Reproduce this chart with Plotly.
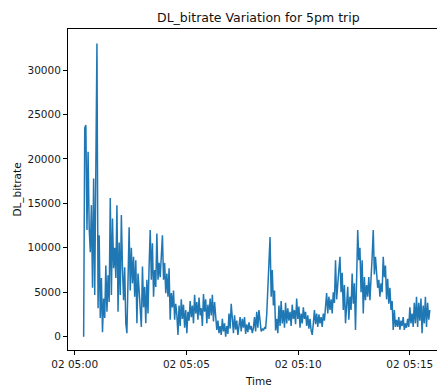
import pandas as pd
import plotly.graph_objects as go

# DL_bitrate readings, sampled in order (about every 3 s) from 05:00:24
bitrate_0500 = [0, 23500, 23800, 12000, 20800, 12200, 9500, 14800, 5500, 17800,
                4700, 20600, 33000, 3200, 11400, 2100, 6600, 500, 4300, 2100,
                8000, 2800, 6900, 3900, 15600, 4700, 13300, 7700, 10000, 6600,
                14800, 2800, 10600, 4700, 13700, 7700]
bitrate_0502 = [4100, 7800, 1500, 400, 7500, 12300, 5200, 10000, 6000, 9000,
                4500, 8600, 1500, 7100, 5200, 2600, 1100, 7900, 3300, 5600,
                1500, 6400, 2600, 8000, 12000, 6400, 10500, 4500, 7500, 5600,
                11600, 6400, 8300, 6700, 9000, 11400, 6400, 8300, 4900, 7100,
                4500, 7700, 1900, 4900, 3300, 5200, 1900, 3700, 2500, 200]
bitrate_0504 = [3500, 1200, 4200, 2000, 3600, 1000, 3000, 400, 2800, 1800,
                4000, 2200, 3500, 1500, 4700, 2600, 3900, 1900, 4400, 2400,
                3200, 1200, 4800, 2800, 4200, 1500, 3600, 2000, 4300, 2400,
                4700, 1700, 3900, 2000, 750, 1800, 400, 1200, 200, 2000,
                600, 1500, 0, 1200, 300, 2600, 900, 3700]
bitrate_0507 = [1500, 400, 2400, 800, 1800, 200, 1200, 2200, 600, 2000,
                1000, 2200, 300, 1400, 500, 1600, 800, 1200, 400, 1000,
                2200, 600, 2800, 1000, 3000, 1300, 600, 900, 700, 1000,
                900, 2500, 6000, 8500, 11200, 4500, 7500, 3500, 5200, 700,
                2000, 400, 3500, 1200, 4000, 1500, 3000, 1000, 3800]
bitrate_0509 = [1500, 3200, 1800, 2800, 1200, 3600, 2000, 3000, 1400, 4300,
                2000, 3400, 1000, 2600, 1500, 3300, 2000, 2800, 1200, 2400,
                900, 2000, 700, 200, 1500, 3000, 1400, 2600, 1100, 2500,
                1500, 2200, 1100, 2600, 1800, 3000, 4900, 2600, 4500, 3000,
                4200, 2600, 5000, 3800, 8600, 4200, 5500, 7500, 9000, 5000, 7200]
bitrate_0512 = [3000, 5800, 1500, 3500, 5600, 1900, 4500, 3000, 7100, 3700,
                6000, 750, 6500, 12000, 8600, 10000, 5000, 8600, 2600, 6700,
                4100, 5800, 4500, 6700, 4100, 6200, 9000, 12000, 7000, 9000,
                6400, 5500, 6400, 4500, 6000, 5000, 9000, 6700, 8000, 4200,
                6500, 3700, 5500, 3000, 4000, 750, 3000, 1100, 1900, 1100]
bitrate_0514 = [2200, 800, 1800, 1200, 2200, 750, 1500, 1000, 2000, 1100,
                3300, 1500, 2600, 1100, 3800, 1500, 4500, 1100, 3800, 1800,
                4300, 400, 3500, 1500, 4500, 1100, 3800, 1900, 3000]

start_time = "2023-01-02 05:00:24"
sample_step = "2980ms"

y_ticks = [0, 5000, 10000, 15000, 20000, 25000, 30000]
y_tick_labels = ["0", "5000", "10000", "15000", "20000", "25000", "30000"]
x_ticks = ["2023-01-02 05:00:00", "2023-01-02 05:05:00",
           "2023-01-02 05:10:00", "2023-01-02 05:15:00"]
x_tick_labels = ["02 05:00", "02 05:05", "02 05:10", "02 05:15"]

values = (bitrate_0500 + bitrate_0502 + bitrate_0504 + bitrate_0507
          + bitrate_0509 + bitrate_0512 + bitrate_0514)
times = pd.date_range(start_time, periods=len(values), freq=sample_step)

FONT = "DejaVu Sans"

fig = go.Figure()
fig.add_trace(go.Scatter(x=times, y=values, mode="lines",
                         line=dict(color="#1f77b4", width=1.5),
                         hoverinfo="skip"))

fig.update_layout(
    width=437, height=387,
    margin=dict(l=68, r=0, t=29, b=37),
    paper_bgcolor="white", plot_bgcolor="white",
    showlegend=False,
    font=dict(family=FONT, size=10.5, color="#1a1a1a"),
    annotations=[
        dict(text="DL_bitrate Variation for 5pm trip", xref="paper", yref="paper",
             x=0.515, y=1.037, xanchor="center", yanchor="middle",
             showarrow=False, font=dict(family=FONT, size=12.5, color="#111")),
        dict(text="Time", xref="paper", yref="paper",
             x=0.515, y=-0.0966, xanchor="center", yanchor="middle",
             showarrow=False, font=dict(family=FONT, size=10.5, color="#111")),
        dict(text="DL_bitrate", xref="paper", yref="paper",
             x=-0.138, y=0.5, xanchor="center", yanchor="middle", textangle=-90,
             showarrow=False, font=dict(family=FONT, size=10.5, color="#111")),
    ],
)

fig.update_xaxes(
    type="date",
    range=["2023-01-02 04:59:42", "2023-01-02 05:16:13"],
    tickvals=x_ticks, ticktext=x_tick_labels,
    showgrid=False, zeroline=False,
    showline=True, linecolor="black", linewidth=1, mirror=True,
    ticks="outside", ticklen=4, tickwidth=1, tickcolor="black",
)
fig.update_yaxes(
    range=[-1500, 34620],
    tickvals=y_ticks, ticktext=y_tick_labels,
    showgrid=False, zeroline=False,
    showline=True, linecolor="black", linewidth=1, mirror=False,
    ticks="outside", ticklen=4, tickwidth=1, tickcolor="black",
)

fig.write_html("out.html")
